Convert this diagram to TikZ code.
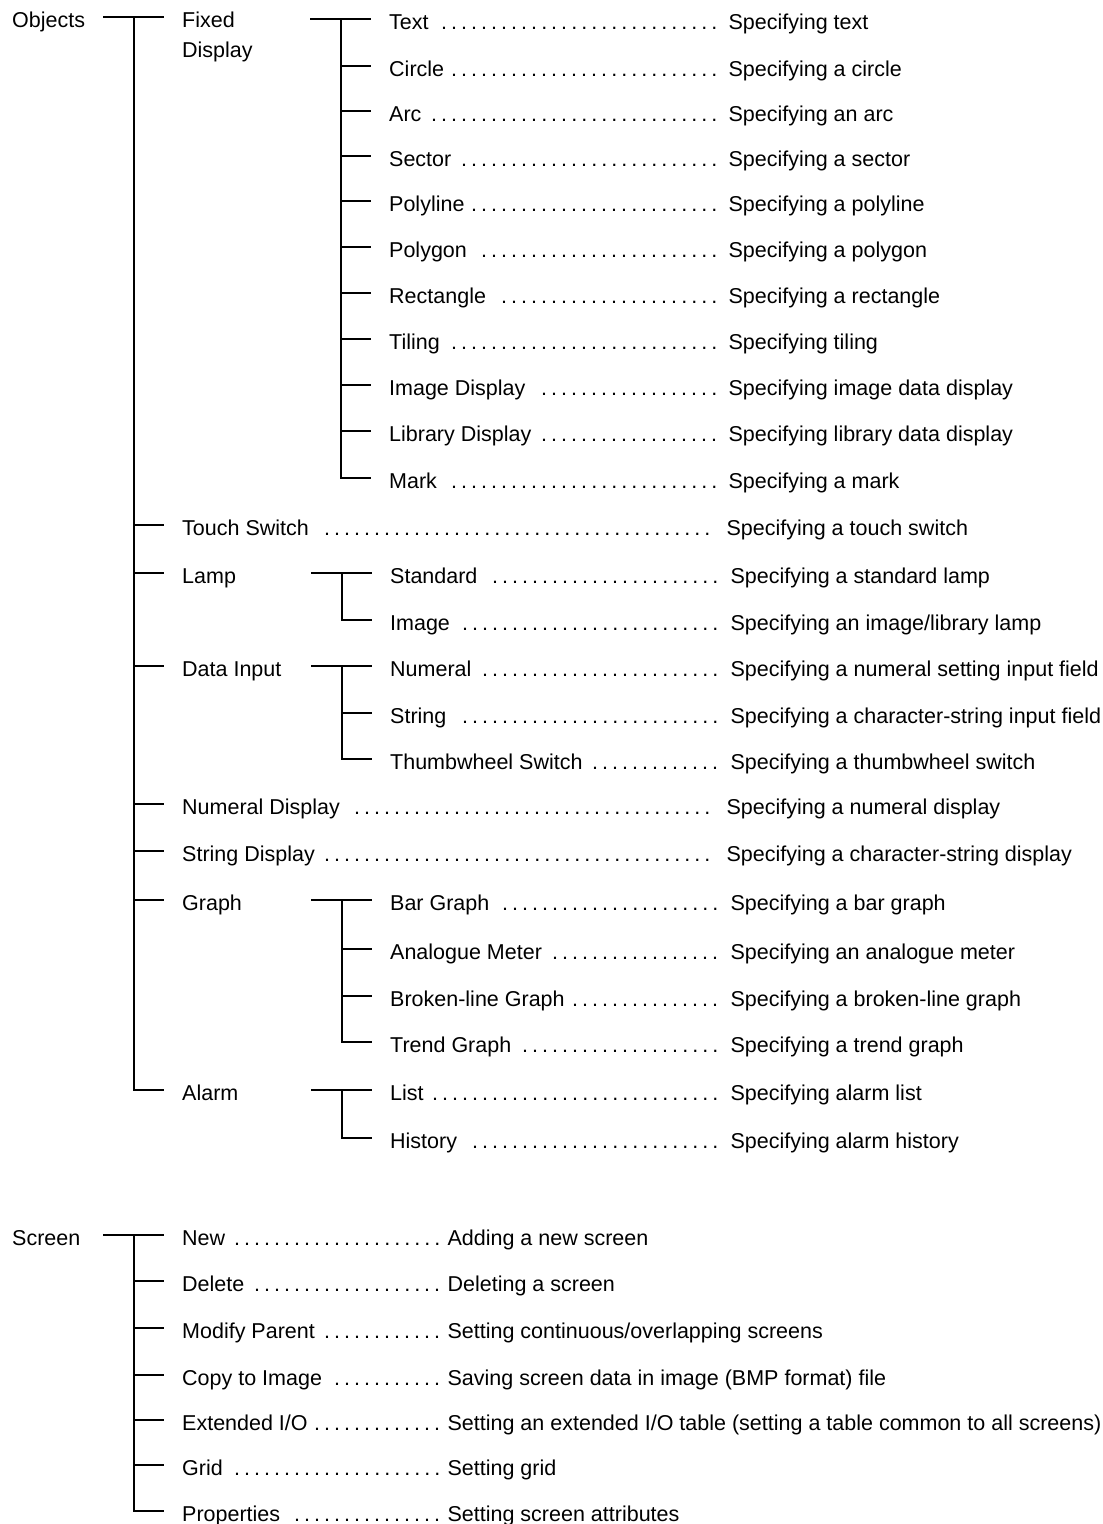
\documentclass[tikz,border=0pt]{standalone}
\usepackage{fontspec}
\setmainfont{Liberation Sans}
\usetikzlibrary{positioning}

% label followed by dot leaders up to a fixed width
\newcommand{\leadto}[2]{\makebox[#1][l]{#2\hskip 4pt\leaders\hbox to 10pt{\hss.\hss}\hfill}}

\begin{document}
\begin{tikzpicture}[x=1pt, y=-1pt,
    item/.style = {anchor=west, inner sep=0pt, text height=20pt, text depth=0pt,
                   font=\fontsize{21.5}{30}\selectfont},
    branch/.style = {line width=1.1pt}]
  \useasboundingbox (0,0) rectangle (1103,1524);

  % Objects
  \node[item] (objects) at (12,17) {Objects};
  \node[item] (fixed) at (182,17) {\parbox[t]{100pt}{Fixed\\Display}};
  \foreach \n/\y/\t/\d in {touch/525/Touch Switch/Specifying a touch switch,
      numdisp/804/Numeral Display/Specifying a numeral display,
      strdisp/851/String Display/Specifying a character-string display}{
    \node[item] (\n) at (182,\y) {\leadto{538pt}{\t}};
    \node[item, right=6pt of \n] (\n-d) {\d};
  }
  \node[item] (lamp) at (182,573) {Lamp};
  \node[item] (datain) at (182,666) {Data Input};
  \node[item] (graph) at (182,900) {Graph};
  \node[item] (alarm) at (182,1090) {Alarm};

  % Fixed Display
  \foreach \n/\y/\t/\d in {txt/19/Text/Specifying text,
      circle/66/Circle/Specifying a circle,
      arc/111/Arc/Specifying an arc,
      sector/156/Sector/Specifying a sector,
      polyline/201/Polyline/Specifying a polyline,
      polygon/247/Polygon/Specifying a polygon,
      rect/293/Rectangle/Specifying a rectangle,
      tiling/339/Tiling/Specifying tiling,
      imgdisp/385/Image Display/Specifying image data display,
      libdisp/431/Library Display/Specifying library data display,
      mark/478/Mark/Specifying a mark}{
    \node[item] (\n) at (389,\y) {\leadto{337pt}{\t}};
    \node[item, right=2pt of \n] (\n-d) {\d};
  }

  % Lamp, Data Input, Graph, Alarm
  \foreach \n/\y/\t/\d in {standard/573/Standard/Specifying a standard lamp,
      image/620/Image/{Specifying an image/library lamp},
      numeral/666/Numeral/Specifying a numeral setting input field,
      string/713/String/Specifying a character-string input field,
      thumb/759/Thumbwheel Switch/Specifying a thumbwheel switch,
      bar/900/Bar Graph/Specifying a bar graph,
      meter/949/Analogue Meter/Specifying an analogue meter,
      broken/996/Broken-line Graph/Specifying a broken-line graph,
      trend/1042/Trend Graph/Specifying a trend graph,
      list/1090/List/Specifying alarm list,
      history/1138/History/Specifying alarm history}{
    \node[item] (\n) at (390,\y) {\leadto{338pt}{\t}};
    \node[item, right=2pt of \n] (\n-d) {\d};
  }

  % Screen
  \node[item] (screen) at (12,1235) {Screen};
  \foreach \n/\y/\t/\d in {new/1235/New/Adding a new screen,
      delete/1281/Delete/Deleting a screen,
      modify/1328/Modify Parent/{Setting continuous/overlapping screens},
      copy/1375/Copy to Image/Saving screen data in image (BMP format) file,
      extio/1420/{Extended I/O}/{Setting an extended I/O table (setting a table common to all screens)},
      grid/1465/Grid/Setting grid,
      props/1511/Properties/Setting screen attributes}{
    \node[item] (\n) at (182,\y) {\leadto{263pt}{\t}};
    \node[item, right=2pt of \n] (\n-d) {\d};
  }

  % tree lines
  \coordinate (objOut) at (103,17);
  \coordinate (objFork) at (134,17);
  \draw[branch] (objOut) -- ([xshift=-18pt]fixed.west);
  \draw[branch] (objFork) |- ([xshift=-18pt]alarm.west);
  \foreach \c in {touch,lamp,datain,numdisp,strdisp,graph}
    \draw[branch] (objFork |- \c.west) -- ([xshift=-18pt]\c.west);

  \coordinate (fixOut) at (310,19);
  \coordinate (fixFork) at (341,19);
  \draw[branch] (fixOut) -- ([xshift=-18pt]txt.west);
  \draw[branch] (fixFork) |- ([xshift=-18pt]mark.west);
  \foreach \c in {circle,arc,sector,polyline,polygon,rect,tiling,imgdisp,libdisp}
    \draw[branch] (fixFork |- \c.west) -- ([xshift=-18pt]\c.west);

  \coordinate (lampOut) at (311,573);
  \coordinate (lampFork) at (342,573);
  \draw[branch] (lampOut) -- ([xshift=-18pt]standard.west);
  \draw[branch] (lampFork) |- ([xshift=-18pt]image.west);

  \coordinate (dataOut) at (311,666);
  \coordinate (dataFork) at (342,666);
  \draw[branch] (dataOut) -- ([xshift=-18pt]numeral.west);
  \draw[branch] (dataFork) |- ([xshift=-18pt]thumb.west);
  \draw[branch] (dataFork |- string.west) -- ([xshift=-18pt]string.west);

  \coordinate (graphOut) at (311,900);
  \coordinate (graphFork) at (342,900);
  \draw[branch] (graphOut) -- ([xshift=-18pt]bar.west);
  \draw[branch] (graphFork) |- ([xshift=-18pt]trend.west);
  \foreach \c in {meter,broken}
    \draw[branch] (graphFork |- \c.west) -- ([xshift=-18pt]\c.west);

  \coordinate (alarmOut) at (311,1090);
  \coordinate (alarmFork) at (342,1090);
  \draw[branch] (alarmOut) -- ([xshift=-18pt]list.west);
  \draw[branch] (alarmFork) |- ([xshift=-18pt]history.west);

  \coordinate (scrOut) at (103,1235);
  \coordinate (scrFork) at (134,1235);
  \draw[branch] (scrOut) -- ([xshift=-18pt]new.west);
  \draw[branch] (scrFork) |- ([xshift=-18pt]props.west);
  \foreach \c in {delete,modify,copy,extio,grid}
    \draw[branch] (scrFork |- \c.west) -- ([xshift=-18pt]\c.west);
\end{tikzpicture}
\end{document}
